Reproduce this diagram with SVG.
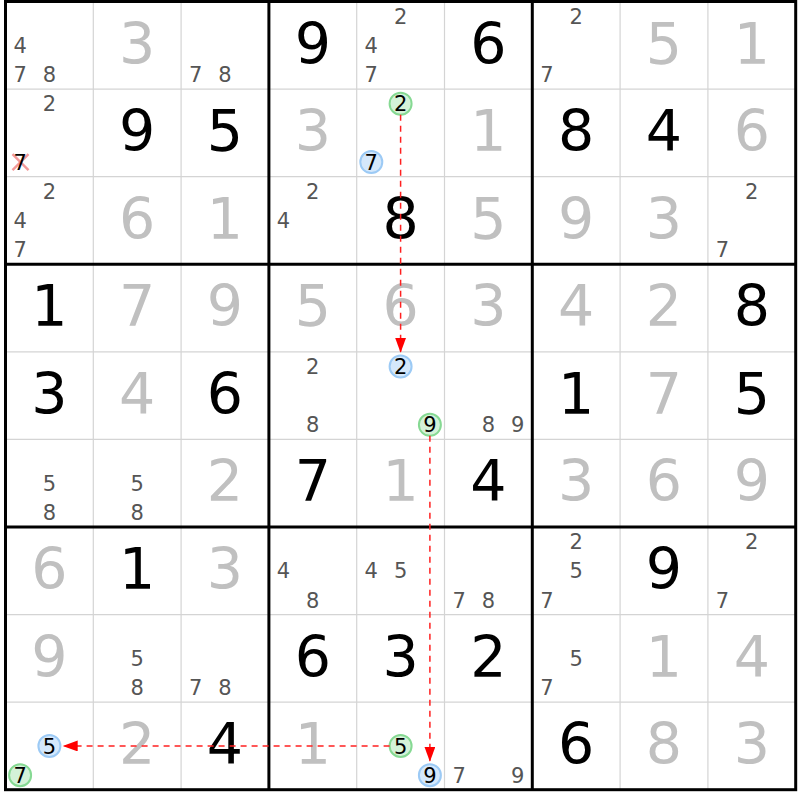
<svg xmlns="http://www.w3.org/2000/svg" width="800" height="800" viewBox="0 0 800 800">
<style>
text{font-family:"DejaVu Sans","Liberation Sans",sans-serif;text-anchor:middle}
.g{font-size:57px;fill:#000}
.s{font-size:57px;fill:#c0c0c0}
.p{font-size:21px;fill:#555}
.h{font-size:21px;fill:#000}
.cb{fill:#d5e8fb;stroke:#9ccaf5;stroke-width:2}
.cg{fill:#d4f2d8;stroke:#86d993;stroke-width:2}
.thin{stroke:#d4d4d4;stroke-width:1.2}
.thick{stroke:#000;stroke-width:3;fill:none}
.link{stroke:#ff2020;stroke-width:1.5;stroke-dasharray:6 5;fill:none}
.strike{stroke:#f08080;stroke-width:2.5;stroke-opacity:0.8}
</style>
<defs>
<marker id="arr" markerUnits="userSpaceOnUse" markerWidth="16" markerHeight="12" refX="15" refY="5.5" orient="auto">
<path d="M0,0 L15,5.5 L0,11 Z" fill="#ff0000"/>
</marker>
</defs>
<rect width="800" height="800" fill="#fff"/>
<g id="grid-thin">
<line class="thin" x1="93.3" y1="1.5" x2="93.3" y2="789.7"/>
<line class="thin" x1="181.1" y1="1.5" x2="181.1" y2="789.7"/>
<line class="thin" x1="356.7" y1="1.5" x2="356.7" y2="789.7"/>
<line class="thin" x1="444.5" y1="1.5" x2="444.5" y2="789.7"/>
<line class="thin" x1="620.1" y1="1.5" x2="620.1" y2="789.7"/>
<line class="thin" x1="707.9" y1="1.5" x2="707.9" y2="789.7"/>
<line class="thin" x1="5.5" y1="89.08" x2="795.7" y2="89.08"/>
<line class="thin" x1="5.5" y1="176.66" x2="795.7" y2="176.66"/>
<line class="thin" x1="5.5" y1="351.82" x2="795.7" y2="351.82"/>
<line class="thin" x1="5.5" y1="439.4" x2="795.7" y2="439.4"/>
<line class="thin" x1="5.5" y1="614.56" x2="795.7" y2="614.56"/>
<line class="thin" x1="5.5" y1="702.14" x2="795.7" y2="702.14"/>
</g>
<g id="grid-thick">
<rect class="thick" x="5.5" y="1.5" width="790.2" height="788.2"/>
<line class="thick" x1="268.9" y1="1.5" x2="268.9" y2="789.7"/>
<line class="thick" x1="532.3" y1="1.5" x2="532.3" y2="789.7"/>
<line class="thick" x1="5.5" y1="264.24" x2="795.7" y2="264.24"/>
<line class="thick" x1="5.5" y1="526.98" x2="795.7" y2="526.98"/>
</g>
<g id="cells">
<!-- row 1 -->
<g id="r1c1" transform="translate(5.5,1.5)"><text class="p" x="14.6" y="51.4">4</text><text class="p" x="14.6" y="80.6">7</text><text class="p" x="43.9" y="80.6">8</text></g>
<g id="r1c2" transform="translate(93.3,1.5)"><text class="s" x="43.9" y="62">3</text></g>
<g id="r1c3" transform="translate(181.1,1.5)"><text class="p" x="14.6" y="80.6">7</text><text class="p" x="43.9" y="80.6">8</text></g>
<g id="r1c4" transform="translate(268.9,1.5)"><text class="g" x="43.9" y="62">9</text></g>
<g id="r1c5" transform="translate(356.7,1.5)"><text class="p" x="43.9" y="22.2">2</text><text class="p" x="14.6" y="51.4">4</text><text class="p" x="14.6" y="80.6">7</text></g>
<g id="r1c6" transform="translate(444.5,1.5)"><text class="g" x="43.9" y="62">6</text></g>
<g id="r1c7" transform="translate(532.3,1.5)"><text class="p" x="43.9" y="22.2">2</text><text class="p" x="14.6" y="80.6">7</text></g>
<g id="r1c8" transform="translate(620.1,1.5)"><text class="s" x="43.9" y="62">5</text></g>
<g id="r1c9" transform="translate(707.9,1.5)"><text class="s" x="43.9" y="62">1</text></g>
<!-- row 2 -->
<g id="r2c1" transform="translate(5.5,89.08)"><text class="p" x="43.9" y="22.2">2</text><line class="strike" x1="7" y1="65" x2="23" y2="81"/><line class="strike" x1="23" y1="65" x2="7" y2="81"/><text class="h" x="14.6" y="80.6">7</text></g>
<g id="r2c2" transform="translate(93.3,89.08)"><text class="g" x="43.9" y="62">9</text></g>
<g id="r2c3" transform="translate(181.1,89.08)"><text class="g" x="43.9" y="62">5</text></g>
<g id="r2c4" transform="translate(268.9,89.08)"><text class="s" x="43.9" y="62">3</text></g>
<g id="r2c5" transform="translate(356.7,89.08)"><circle class="cg" cx="43.9" cy="14.6" r="11"/><text class="h" x="43.9" y="22.2">2</text><circle class="cb" cx="14.6" cy="73" r="11"/><text class="h" x="14.6" y="80.6">7</text></g>
<g id="r2c6" transform="translate(444.5,89.08)"><text class="s" x="43.9" y="62">1</text></g>
<g id="r2c7" transform="translate(532.3,89.08)"><text class="g" x="43.9" y="62">8</text></g>
<g id="r2c8" transform="translate(620.1,89.08)"><text class="g" x="43.9" y="62">4</text></g>
<g id="r2c9" transform="translate(707.9,89.08)"><text class="s" x="43.9" y="62">6</text></g>
<!-- row 3 -->
<g id="r3c1" transform="translate(5.5,176.66)"><text class="p" x="43.9" y="22.2">2</text><text class="p" x="14.6" y="51.4">4</text><text class="p" x="14.6" y="80.6">7</text></g>
<g id="r3c2" transform="translate(93.3,176.66)"><text class="s" x="43.9" y="62">6</text></g>
<g id="r3c3" transform="translate(181.1,176.66)"><text class="s" x="43.9" y="62">1</text></g>
<g id="r3c4" transform="translate(268.9,176.66)"><text class="p" x="43.9" y="22.2">2</text><text class="p" x="14.6" y="51.4">4</text></g>
<g id="r3c5" transform="translate(356.7,176.66)"><text class="g" x="43.9" y="62">8</text></g>
<g id="r3c6" transform="translate(444.5,176.66)"><text class="s" x="43.9" y="62">5</text></g>
<g id="r3c7" transform="translate(532.3,176.66)"><text class="s" x="43.9" y="62">9</text></g>
<g id="r3c8" transform="translate(620.1,176.66)"><text class="s" x="43.9" y="62">3</text></g>
<g id="r3c9" transform="translate(707.9,176.66)"><text class="p" x="43.9" y="22.2">2</text><text class="p" x="14.6" y="80.6">7</text></g>
<!-- row 4 -->
<g id="r4c1" transform="translate(5.5,264.24)"><text class="g" x="43.9" y="62">1</text></g>
<g id="r4c2" transform="translate(93.3,264.24)"><text class="s" x="43.9" y="62">7</text></g>
<g id="r4c3" transform="translate(181.1,264.24)"><text class="s" x="43.9" y="62">9</text></g>
<g id="r4c4" transform="translate(268.9,264.24)"><text class="s" x="43.9" y="62">5</text></g>
<g id="r4c5" transform="translate(356.7,264.24)"><text class="s" x="43.9" y="62">6</text></g>
<g id="r4c6" transform="translate(444.5,264.24)"><text class="s" x="43.9" y="62">3</text></g>
<g id="r4c7" transform="translate(532.3,264.24)"><text class="s" x="43.9" y="62">4</text></g>
<g id="r4c8" transform="translate(620.1,264.24)"><text class="s" x="43.9" y="62">2</text></g>
<g id="r4c9" transform="translate(707.9,264.24)"><text class="g" x="43.9" y="62">8</text></g>
<!-- row 5 -->
<g id="r5c1" transform="translate(5.5,351.82)"><text class="g" x="43.9" y="62">3</text></g>
<g id="r5c2" transform="translate(93.3,351.82)"><text class="s" x="43.9" y="62">4</text></g>
<g id="r5c3" transform="translate(181.1,351.82)"><text class="g" x="43.9" y="62">6</text></g>
<g id="r5c4" transform="translate(268.9,351.82)"><text class="p" x="43.9" y="22.2">2</text><text class="p" x="43.9" y="80.6">8</text></g>
<g id="r5c5" transform="translate(356.7,351.82)"><circle class="cb" cx="43.9" cy="14.6" r="11"/><text class="h" x="43.9" y="22.2">2</text><circle class="cg" cx="73.2" cy="73" r="11"/><text class="h" x="73.2" y="80.6">9</text></g>
<g id="r5c6" transform="translate(444.5,351.82)"><text class="p" x="43.9" y="80.6">8</text><text class="p" x="73.2" y="80.6">9</text></g>
<g id="r5c7" transform="translate(532.3,351.82)"><text class="g" x="43.9" y="62">1</text></g>
<g id="r5c8" transform="translate(620.1,351.82)"><text class="s" x="43.9" y="62">7</text></g>
<g id="r5c9" transform="translate(707.9,351.82)"><text class="g" x="43.9" y="62">5</text></g>
<!-- row 6 -->
<g id="r6c1" transform="translate(5.5,439.4)"><text class="p" x="43.9" y="51.4">5</text><text class="p" x="43.9" y="80.6">8</text></g>
<g id="r6c2" transform="translate(93.3,439.4)"><text class="p" x="43.9" y="51.4">5</text><text class="p" x="43.9" y="80.6">8</text></g>
<g id="r6c3" transform="translate(181.1,439.4)"><text class="s" x="43.9" y="62">2</text></g>
<g id="r6c4" transform="translate(268.9,439.4)"><text class="g" x="43.9" y="62">7</text></g>
<g id="r6c5" transform="translate(356.7,439.4)"><text class="s" x="43.9" y="62">1</text></g>
<g id="r6c6" transform="translate(444.5,439.4)"><text class="g" x="43.9" y="62">4</text></g>
<g id="r6c7" transform="translate(532.3,439.4)"><text class="s" x="43.9" y="62">3</text></g>
<g id="r6c8" transform="translate(620.1,439.4)"><text class="s" x="43.9" y="62">6</text></g>
<g id="r6c9" transform="translate(707.9,439.4)"><text class="s" x="43.9" y="62">9</text></g>
<!-- row 7 -->
<g id="r7c1" transform="translate(5.5,526.98)"><text class="s" x="43.9" y="62">6</text></g>
<g id="r7c2" transform="translate(93.3,526.98)"><text class="g" x="43.9" y="62">1</text></g>
<g id="r7c3" transform="translate(181.1,526.98)"><text class="s" x="43.9" y="62">3</text></g>
<g id="r7c4" transform="translate(268.9,526.98)"><text class="p" x="14.6" y="51.4">4</text><text class="p" x="43.9" y="80.6">8</text></g>
<g id="r7c5" transform="translate(356.7,526.98)"><text class="p" x="14.6" y="51.4">4</text><text class="p" x="43.9" y="51.4">5</text></g>
<g id="r7c6" transform="translate(444.5,526.98)"><text class="p" x="14.6" y="80.6">7</text><text class="p" x="43.9" y="80.6">8</text></g>
<g id="r7c7" transform="translate(532.3,526.98)"><text class="p" x="43.9" y="22.2">2</text><text class="p" x="43.9" y="51.4">5</text><text class="p" x="14.6" y="80.6">7</text></g>
<g id="r7c8" transform="translate(620.1,526.98)"><text class="g" x="43.9" y="62">9</text></g>
<g id="r7c9" transform="translate(707.9,526.98)"><text class="p" x="43.9" y="22.2">2</text><text class="p" x="14.6" y="80.6">7</text></g>
<!-- row 8 -->
<g id="r8c1" transform="translate(5.5,614.56)"><text class="s" x="43.9" y="62">9</text></g>
<g id="r8c2" transform="translate(93.3,614.56)"><text class="p" x="43.9" y="51.4">5</text><text class="p" x="43.9" y="80.6">8</text></g>
<g id="r8c3" transform="translate(181.1,614.56)"><text class="p" x="14.6" y="80.6">7</text><text class="p" x="43.9" y="80.6">8</text></g>
<g id="r8c4" transform="translate(268.9,614.56)"><text class="g" x="43.9" y="62">6</text></g>
<g id="r8c5" transform="translate(356.7,614.56)"><text class="g" x="43.9" y="62">3</text></g>
<g id="r8c6" transform="translate(444.5,614.56)"><text class="g" x="43.9" y="62">2</text></g>
<g id="r8c7" transform="translate(532.3,614.56)"><text class="p" x="43.9" y="51.4">5</text><text class="p" x="14.6" y="80.6">7</text></g>
<g id="r8c8" transform="translate(620.1,614.56)"><text class="s" x="43.9" y="62">1</text></g>
<g id="r8c9" transform="translate(707.9,614.56)"><text class="s" x="43.9" y="62">4</text></g>
<!-- row 9 -->
<g id="r9c1" transform="translate(5.5,702.14)"><circle class="cb" cx="43.9" cy="43.8" r="11"/><text class="h" x="43.9" y="51.4">5</text><circle class="cg" cx="14.6" cy="73" r="11"/><text class="h" x="14.6" y="80.6">7</text></g>
<g id="r9c2" transform="translate(93.3,702.14)"><text class="s" x="43.9" y="62">2</text></g>
<g id="r9c3" transform="translate(181.1,702.14)"><text class="g" x="43.9" y="62">4</text></g>
<g id="r9c4" transform="translate(268.9,702.14)"><text class="s" x="43.9" y="62">1</text></g>
<g id="r9c5" transform="translate(356.7,702.14)"><circle class="cg" cx="43.9" cy="43.8" r="11"/><text class="h" x="43.9" y="51.4">5</text><circle class="cb" cx="73.2" cy="73" r="11"/><text class="h" x="73.2" y="80.6">9</text></g>
<g id="r9c6" transform="translate(444.5,702.14)"><text class="p" x="14.6" y="80.6">7</text><text class="p" x="73.2" y="80.6">9</text></g>
<g id="r9c7" transform="translate(532.3,702.14)"><text class="g" x="43.9" y="62">6</text></g>
<g id="r9c8" transform="translate(620.1,702.14)"><text class="s" x="43.9" y="62">8</text></g>
<g id="r9c9" transform="translate(707.9,702.14)"><text class="s" x="43.9" y="62">3</text></g>
</g>
<g id="connectors">
<line class="link" x1="400.6" y1="114.7" x2="400.6" y2="352.7" marker-end="url(#arr)"/>
<line class="link" x1="429.9" y1="435.8" x2="429.9" y2="761.7" marker-end="url(#arr)"/>
<line class="link" x1="389.6" y1="745.94" x2="62.7" y2="745.94" marker-end="url(#arr)"/>
</g>
</svg>
